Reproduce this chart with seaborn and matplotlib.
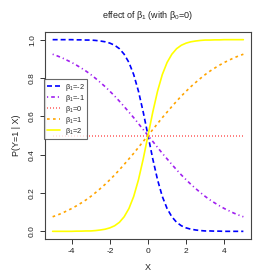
import matplotlib
matplotlib.use("Agg")
import matplotlib.pyplot as plt
import seaborn as sns
import pandas as pd

x_vals = [-5.0, -4.75, -4.5, -4.25, -4.0, -3.75, -3.5, -3.25, -3.0, -2.75,
          -2.5, -2.25, -2.0, -1.75, -1.5, -1.25, -1.0, -0.75, -0.5, -0.25,
          0.0, 0.25, 0.5, 0.75, 1.0, 1.25, 1.5, 1.75, 2.0, 2.25,
          2.5, 2.75, 3.0, 3.25, 3.5, 3.75, 4.0, 4.25, 4.5, 4.75, 5.0]

p_b_m2 = [1.000, 1.000, 1.000, 1.000, 1.000, 0.999, 0.999, 0.998, 0.998, 0.996,
          0.993, 0.989, 0.982, 0.971, 0.953, 0.924, 0.881, 0.818, 0.731, 0.622,
          0.500, 0.378, 0.269, 0.182, 0.119, 0.076, 0.047, 0.029, 0.018, 0.011,
          0.007, 0.004, 0.002, 0.002, 0.001, 0.001, 0.000, 0.000, 0.000, 0.000, 0.000]
p_b_m1 = [0.924, 0.915, 0.905, 0.893, 0.881, 0.867, 0.852, 0.836, 0.818, 0.798,
          0.777, 0.755, 0.731, 0.706, 0.679, 0.651, 0.622, 0.593, 0.562, 0.531,
          0.500, 0.469, 0.438, 0.407, 0.378, 0.349, 0.321, 0.294, 0.269, 0.245,
          0.223, 0.202, 0.182, 0.164, 0.148, 0.133, 0.119, 0.107, 0.095, 0.085, 0.076]
p_b_0 = [0.5, 0.5, 0.5, 0.5, 0.5, 0.5, 0.5, 0.5, 0.5, 0.5,
         0.5, 0.5, 0.5, 0.5, 0.5, 0.5, 0.5, 0.5, 0.5, 0.5,
         0.5, 0.5, 0.5, 0.5, 0.5, 0.5, 0.5, 0.5, 0.5, 0.5,
         0.5, 0.5, 0.5, 0.5, 0.5, 0.5, 0.5, 0.5, 0.5, 0.5, 0.5]
p_b_1 = [0.076, 0.085, 0.095, 0.107, 0.119, 0.133, 0.148, 0.164, 0.182, 0.202,
         0.223, 0.245, 0.269, 0.294, 0.321, 0.349, 0.378, 0.407, 0.438, 0.469,
         0.500, 0.531, 0.562, 0.593, 0.622, 0.651, 0.679, 0.706, 0.731, 0.755,
         0.777, 0.798, 0.818, 0.836, 0.852, 0.867, 0.881, 0.893, 0.905, 0.915, 0.924]
p_b_2 = [0.000, 0.000, 0.000, 0.000, 0.000, 0.001, 0.001, 0.002, 0.002, 0.004,
         0.007, 0.011, 0.018, 0.029, 0.047, 0.076, 0.119, 0.182, 0.269, 0.378,
         0.500, 0.622, 0.731, 0.818, 0.881, 0.924, 0.953, 0.971, 0.982, 0.989,
         0.993, 0.996, 0.998, 0.998, 0.999, 0.999, 1.000, 1.000, 1.000, 1.000, 1.000]

series_labels = [r"$\beta_1$=-2", r"$\beta_1$=-1", r"$\beta_1$=0", r"$\beta_1$=1", r"$\beta_1$=2"]
series_values = [p_b_m2, p_b_m1, p_b_0, p_b_1, p_b_2]
x_ticks = [-4, -2, 0, 2, 4]
y_ticks = [0.0, 0.2, 0.4, 0.6, 0.8, 1.0]
y_tick_labels = ["0.0", "0.2", "0.4", "0.6", "0.8", "1.0"]

colors = ["#0000FF", "#A020F0", "#FF6A6A", "#FFA500", "#FFFF00"]
lw = 1.2
styles = [(0, (3.0, 1.8)), (0, (0.7, 1.8, 2.2, 1.8)), (0, (0.6, 1.2)),
          (0, (1.6, 2.0)), "-"]

sns.set_theme(style="white")
plt.rcParams["font.family"] = ["Liberation Sans", "DejaVu Sans"]
plt.rcParams["mathtext.fontset"] = "custom"
plt.rcParams["mathtext.rm"] = "Liberation Sans"
plt.rcParams["mathtext.it"] = "Liberation Sans"
plt.rcParams["mathtext.bf"] = "Liberation Sans"
plt.rcParams["axes.unicode_minus"] = False

fig = plt.figure(figsize=(2.8, 2.8), dpi=100)
ax = fig.add_axes([45 / 280, 41 / 280, 206 / 280, 207 / 280])

for lab, vals, col, ls in zip(series_labels, series_values, colors, styles):
    df = pd.DataFrame({"X": x_vals, "P": vals})
    sns.lineplot(data=df, x="X", y="P", color=col, linestyle=ls, linewidth=lw,
                 label=lab, ax=ax)

ax.set_xlim(-5.4, 5.4)
ax.set_ylim(-0.04, 1.04)
ax.set_xticks(x_ticks)
ax.set_xticklabels([str(t) for t in x_ticks])
ax.set_yticks(y_ticks)
ax.set_yticklabels(y_tick_labels, rotation=90, va="center")
ax.tick_params(axis="both", which="major", direction="out", length=3.5, width=0.7,
               color="#333333", labelsize=6, pad=3, labelcolor="#222222",
               bottom=True, left=True)
for s in ax.spines.values():
    s.set_visible(True)
    s.set_color("#444444")
    s.set_linewidth(0.8)
ax.grid(False)

ax.set_xlabel("X", fontsize=6.5, labelpad=6, color="#222222")
ax.set_ylabel("P(Y=1 | X)", fontsize=6.5, labelpad=6, color="#222222")
fig.text(148 / 280, 1 - 16 / 280, r"effect of $\beta_1$ (with $\beta_0$=0)",
         ha="center", va="center", fontsize=6.5, color="#222222")

leg = ax.legend(loc="upper left", bbox_to_anchor=(-0.005, 0.775), fontsize=5.3,
                frameon=True, fancybox=False, edgecolor="#444444",
                handlelength=1.8, handletextpad=0.6, labelspacing=0.0,
                borderpad=0.4, borderaxespad=0.0)
leg.get_frame().set_linewidth(0.8)

fig.savefig("out.png", dpi=100, facecolor="white")
